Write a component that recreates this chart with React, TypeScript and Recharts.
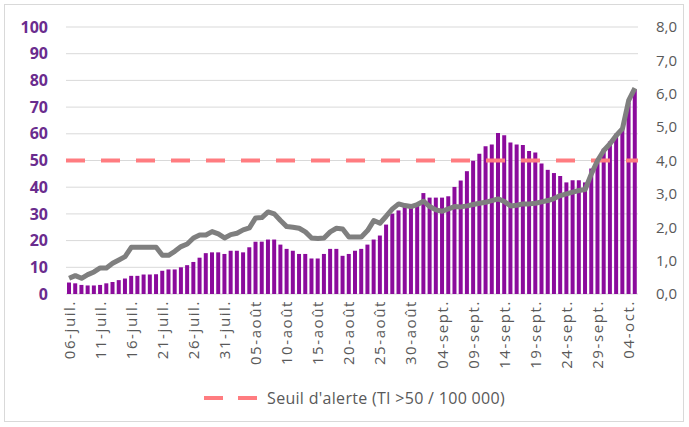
import React from 'react';
import { ComposedChart, Bar, Line, XAxis, YAxis, CartesianGrid, ReferenceLine, Legend } from 'recharts';

const dates = [
  '06-juil.', '07-juil.', '08-juil.', '09-juil.', '10-juil.', '11-juil.', '12-juil.', '13-juil.', '14-juil.', '15-juil.',
  '16-juil.', '17-juil.', '18-juil.', '19-juil.', '20-juil.', '21-juil.', '22-juil.', '23-juil.', '24-juil.', '25-juil.',
  '26-juil.', '27-juil.', '28-juil.', '29-juil.', '30-juil.', '31-juil.',
  '01-août', '02-août', '03-août', '04-août', '05-août', '06-août', '07-août', '08-août', '09-août', '10-août',
  '11-août', '12-août', '13-août', '14-août', '15-août', '16-août', '17-août', '18-août', '19-août', '20-août',
  '21-août', '22-août', '23-août', '24-août', '25-août', '26-août', '27-août', '28-août', '29-août', '30-août', '31-août',
  '01-sept.', '02-sept.', '03-sept.', '04-sept.', '05-sept.', '06-sept.', '07-sept.', '08-sept.', '09-sept.', '10-sept.',
  '11-sept.', '12-sept.', '13-sept.', '14-sept.', '15-sept.', '16-sept.', '17-sept.', '18-sept.', '19-sept.', '20-sept.',
  '21-sept.', '22-sept.', '23-sept.', '24-sept.', '25-sept.', '26-sept.', '27-sept.', '28-sept.', '29-sept.', '30-sept.',
  '01-oct.', '02-oct.', '03-oct.', '04-oct.', '05-oct.',
];

// Taux d'incidence (axe gauche)
const incidence = [
  4.3, 4.0, 3.4, 3.2, 3.2, 3.4, 4.0, 4.5, 5.2, 5.8,
  6.8, 6.8, 7.3, 7.3, 7.4, 8.7, 9.2, 9.2, 10.0, 10.8,
  12.0, 13.6, 15.3, 15.6, 15.6, 15.0, 16.2, 16.2, 15.6, 17.5,
  19.6, 19.6, 20.4, 20.4, 18.5, 16.9, 16.2, 15.0, 15.0, 13.3,
  13.3, 15.0, 16.9, 16.9, 14.3, 15.0, 16.2, 16.9, 18.5, 20.4,
  21.9, 26.0, 30.1, 31.3, 32.9, 32.9, 33.8, 37.8, 36.1, 36.1,
  36.1, 36.6, 40.1, 42.5, 46.0, 49.9, 52.5, 55.3, 56.0, 60.3,
  59.5, 56.7, 56.0, 55.8, 53.6, 53.0, 48.9, 46.5, 45.3, 44.2,
  41.8, 42.6, 42.6, 41.8, 47.0, 50.4, 54.4, 57.1, 60.0, 61.5,
  71.6, 76.6,
];

// Taux de positivité (axe droit)
const positivity = [
  0.47, 0.55, 0.47, 0.58, 0.66, 0.78, 0.78, 0.92, 1.02, 1.12,
  1.40, 1.40, 1.40, 1.40, 1.40, 1.16, 1.16, 1.28, 1.42, 1.50,
  1.68, 1.77, 1.77, 1.87, 1.80, 1.68, 1.78, 1.82, 1.92, 1.98,
  2.28, 2.29, 2.46, 2.40, 2.20, 2.02, 2.00, 1.97, 1.86, 1.68,
  1.66, 1.68, 1.86, 1.97, 1.95, 1.71, 1.71, 1.71, 1.90, 2.20,
  2.12, 2.33, 2.55, 2.70, 2.65, 2.62, 2.68, 2.78, 2.62, 2.52,
  2.48, 2.55, 2.62, 2.61, 2.64, 2.68, 2.72, 2.75, 2.80, 2.85,
  2.77, 2.64, 2.66, 2.70, 2.70, 2.72, 2.76, 2.80, 2.86, 2.95,
  3.00, 3.05, 3.10, 3.13, 3.60, 4.00, 4.30, 4.50, 4.75, 4.95,
  5.80, 6.17,
];

const leftTicks = [0, 10, 20, 30, 40, 50, 60, 70, 80, 90, 100];
const rightTicks = [0, 1, 2, 3, 4, 5, 6, 7, 8];
const threshold = 50;
const legendLabel = "Seuil d'alerte (TI >50 / 100 000)";

const data = dates.map((d, i) => ({ date: d, incidence: incidence[i], positivity: positivity[i] }));

const FONT = '"Open Sans", "Liberation Sans", sans-serif';

const XTick = (props: any) => {
  const { x, y, payload } = props;
  return (
    <g transform={`translate(${x},${y})`}>
      <text
        transform="rotate(-90)"
        textAnchor="end"
        x={0}
        y={0}
        dy="0.36em"
        fill="#595959"
        fontSize={15}
        fontFamily={FONT}
        letterSpacing={1.6}
      >
        {payload.value}
      </text>
    </g>
  );
};

const LegendContent = () => (
  <div
    style={{
      height: 53,
      display: 'flex',
      justifyContent: 'center',
      alignItems: 'flex-start',
      paddingTop: 14,
      paddingLeft: 19,
      boxSizing: 'border-box',
    }}
  >
    <svg width={54} height={20}>
      <line x1={1} y1={10} x2={54} y2={10} stroke="#FF7C80" strokeWidth={4} strokeDasharray="19 15" />
    </svg>
    <span
      style={{
        marginLeft: 10,
        fontSize: 16,
        letterSpacing: 0.3,
        color: '#595959',
        fontFamily: FONT,
        lineHeight: '20px',
      }}
    >
      {legendLabel}
    </span>
  </div>
);

export default function App() {
  return (
    <div style={{ position: 'absolute', left: 0, top: 0, width: 689, height: 427, background: '#fff' }}>
      <div
        style={{
          position: 'absolute',
          left: 4,
          top: 4,
          width: 680,
          height: 418,
          border: '1px solid #D9D9D9',
          boxSizing: 'border-box',
        }}
      />
      <div style={{ position: 'absolute', left: 0, top: 0 }}>
        <ComposedChart
          width={689}
          height={427}
          data={data}
          margin={{ top: 27, right: 0, bottom: 0, left: 0 }}
          barCategoryGap="16%"
        >
          <CartesianGrid yAxisId="left" vertical={false} stroke="#D9D9D9" />
          <XAxis
            dataKey="date"
            interval={4}
            tick={<XTick />}
            tickLine={false}
            axisLine={false}
            tickSize={0}
            tickMargin={6}
            height={80}
          />
          <YAxis
            yAxisId="left"
            domain={[0, 100]}
            ticks={leftTicks}
            interval={0}
            width={66}
            axisLine={false}
            tickLine={false}
            tickSize={0}
            tickMargin={18}
            tick={{ fill: '#6A2C8E', fontSize: 16, fontWeight: 700, fontFamily: FONT }}
          />
          <YAxis
            yAxisId="right"
            orientation="right"
            domain={[0, 8]}
            ticks={rightTicks}
            interval={0}
            width={51}
            axisLine={false}
            tickLine={false}
            tickSize={0}
            tickMargin={18}
            tickFormatter={(v: number) => v.toFixed(1).replace('.', ',')}
            tick={{ fill: '#595959', fontSize: 15, fontFamily: FONT }}
          />
          <Bar yAxisId="left" dataKey="incidence" fill="#8B0B9C" isAnimationActive={false} />
          <ReferenceLine yAxisId="left" y={threshold} stroke="#FF7C80" strokeWidth={4} strokeDasharray="19 16" />
          <Line
            yAxisId="right"
            dataKey="positivity"
            type="linear"
            stroke="#7F7F7F"
            strokeWidth={5}
            strokeLinejoin="round"
            dot={false}
            activeDot={false}
            isAnimationActive={false}
          />
          <Legend content={<LegendContent />} verticalAlign="bottom" />
        </ComposedChart>
      </div>
    </div>
  );
}
